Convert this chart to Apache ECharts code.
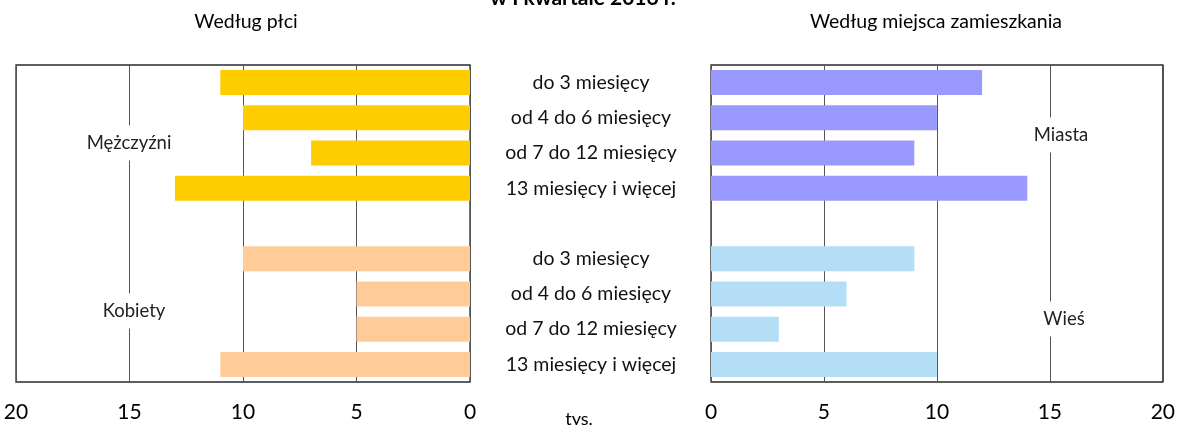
<!DOCTYPE html>
<html>
<head>
<meta charset="utf-8">
<script src="https://cdn.jsdelivr.net/npm/echarts@6/dist/echarts.min.js"></script>
<style>
  html, body { margin: 0; padding: 0; background: #fff; }
  #chart { width: 1178px; height: 425px; }
</style>
</head>
<body>
<div id="chart"></div>
<script>
// okresy pozostawania bez pracy
var categories = ['do 3 miesięcy', 'od 4 do 6 miesięcy', 'od 7 do 12 miesięcy', '13 miesięcy i więcej'];
// tys. osób
var men = [11, 10, 7, 13];
var women = [10, 5, 5, 11];
var cities = [12, 10, 9, 14];
var village = [9, 6, 3, 10];
var ticks = [0, 5, 10, 15, 20];

var FONT = 'Lato, "Open Sans", sans-serif';
var blank = ['-', '-', '-', '-'];

// 9 rows: top group, empty gap row, bottom group
var rows = categories.concat(['']).concat(categories);
function topGroup(arr) { return arr.concat(['-']).concat(blank); }
function bottomGroup(arr) { return blank.concat(['-']).concat(arr); }

var gridLine = { show: true, lineStyle: { color: '#555', width: 1 } };

function valueAxis(gridIndex, inverse) {
  return {
    type: 'value',
    gridIndex: gridIndex,
    min: ticks[0],
    max: ticks[ticks.length - 1],
    interval: 5,
    inverse: inverse,
    axisLine: { show: false },
    axisTick: { show: false },
    splitLine: gridLine,
    axisLabel: { color: '#000', fontSize: 21, fontFamily: FONT, margin: 20 }
  };
}

function sideLabel(text, x, y) {
  return {
    type: 'text',
    x: x, y: y,
    z: 100,
    style: {
      text: text,
      fill: '#222',
      font: '18.5px ' + FONT,
      align: 'center',
      verticalAlign: 'middle',
      backgroundColor: '#fff',
      padding: [8, 3]
    }
  };
}

function plainText(text, x, y, font) {
  return {
    type: 'text',
    x: x, y: y,
    style: { text: text, fill: '#000', font: font, align: 'center', verticalAlign: 'middle' }
  };
}

var chart = echarts.init(document.getElementById('chart'));
chart.setOption({
  animation: false,
  backgroundColor: '#fff',
  grid: [
    { left: 16, right: 708, top: 65, bottom: 43, show: true, borderColor: '#2a2a2a', borderWidth: 1.3, backgroundColor: 'transparent' },
    { left: 711, right: 12, top: 65, bottom: 43, show: true, borderColor: '#2a2a2a', borderWidth: 1.3, backgroundColor: 'transparent' }
  ],
  xAxis: [valueAxis(0, true), valueAxis(1, false)],
  yAxis: [
    {
      type: 'category', gridIndex: 0, data: rows, inverse: true,
      axisLine: { show: false }, axisTick: { show: false }, axisLabel: { show: false }
    },
    {
      type: 'category', gridIndex: 1, data: rows, inverse: true,
      axisLine: { show: false }, axisTick: { show: false },
      axisLabel: { color: '#111', fontSize: 19.5, fontFamily: FONT, align: 'center', margin: 120 }
    }
  ],
  series: [
    { name: 'Mężczyźni', type: 'bar', stack: 'l', xAxisIndex: 0, yAxisIndex: 0, barWidth: 25,
      itemStyle: { color: '#FFCC00' }, data: topGroup(men) },
    { name: 'Kobiety', type: 'bar', stack: 'l', xAxisIndex: 0, yAxisIndex: 0, barWidth: 25,
      itemStyle: { color: '#FFCC99' }, data: bottomGroup(women) },
    { name: 'Miasta', type: 'bar', stack: 'r', xAxisIndex: 1, yAxisIndex: 1, barWidth: 25,
      itemStyle: { color: '#9999FF' }, data: topGroup(cities) },
    { name: 'Wieś', type: 'bar', stack: 'r', xAxisIndex: 1, yAxisIndex: 1, barWidth: 25,
      itemStyle: { color: '#B3DEF6' }, data: bottomGroup(village) }
  ],
  graphic: [
    plainText('w I kwartale 2016 r.', 583, -2, 'bold 21px ' + FONT),
    plainText('Według płci', 246, 22, '19.5px ' + FONT),
    plainText('Według miejsca zamieszkania', 936, 22, '19.5px ' + FONT),
    plainText('tys.', 579, 419, '18px ' + FONT),
    sideLabel('Mężczyźni', 129, 143),
    sideLabel('Kobiety', 134, 311),
    sideLabel('Miasta', 1061, 135),
    sideLabel('Wieś', 1064, 319)
  ]
});
</script>
</body>
</html>
